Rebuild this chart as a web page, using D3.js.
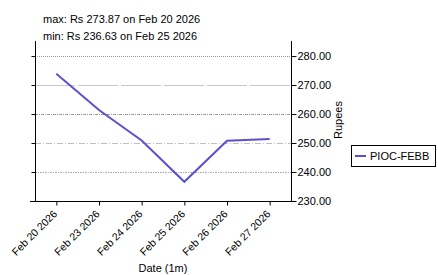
<!DOCTYPE html>
<html>
<head>
<meta charset="utf-8">
<script src="https://cdn.jsdelivr.net/npm/d3@7"></script>
<style>
  body { margin: 0; background: #fff; }
  svg { display: block; font-family: "Liberation Sans", Arial, sans-serif; }
</style>
</head>
<body>
<svg id="chart"></svg>
<script>
const dates = ["Feb 20 2026", "Feb 23 2026", "Feb 24 2026", "Feb 25 2026", "Feb 26 2026", "Feb 27 2026"]
const prices = [273.87, 261.4, 250.9, 236.63, 250.8, 251.4]
const yTicks = [230, 240, 250, 260, 270, 280]
const seriesName = "PIOC-FEBB"

const width = 438, height = 275
const plotLeft = 35, plotRight = 291, plotTop = 41, plotBottom = 201

const svg = d3.select("#chart").attr("width", width).attr("height", height)

const x = d3.scalePoint().domain(dates).range([plotLeft, plotRight]).padding(0.5)
const y = d3.scaleLinear().domain([230, 285.2]).range([plotBottom, plotTop])

// grid lines, each with its own dash style
const gridStyles = {
  280: { stroke: "#999", dash: "1,1" },
  270: { stroke: "#c8c8c8", dash: "40,3" },
  260: { stroke: "#999", dash: "3,1,1,1" },
  250: { stroke: "#c0c0c0", dash: "6,2,1,2" },
  240: { stroke: "#aaa", dash: "2,1,1,1" }
}
svg.append("g").selectAll("line")
  .data(yTicks.filter(d => d !== 230))
  .enter().append("line")
    .attr("x1", plotLeft).attr("x2", plotRight)
    .attr("y1", d => Math.round(y(d)) + 0.5).attr("y2", d => Math.round(y(d)) + 0.5)
    .attr("stroke", d => gridStyles[d].stroke)
    .attr("stroke-dasharray", d => gridStyles[d].dash)

// left axis (ticks only)
const gl = svg.append("g").attr("transform", "translate(" + (plotLeft + 0.5) + ",0)")
  .call(d3.axisLeft(y).tickValues(yTicks).tickSize(4).tickSizeOuter(0).tickFormat(""))
gl.select(".domain").remove()
gl.append("line").attr("y1", plotTop).attr("y2", plotBottom).attr("stroke", "#000")

// right axis
const gr = svg.append("g").attr("transform", "translate(" + (plotRight + 0.5) + ",0)")
  .call(d3.axisRight(y).tickValues(yTicks).tickSize(5).tickPadding(1).tickFormat(d3.format(".2f")))
gr.select(".domain").remove()
gr.append("line").attr("y1", plotTop).attr("y2", plotBottom).attr("stroke", "#000")
gr.selectAll("text").attr("font-size", 11).attr("fill", "#000").attr("font-family", "Liberation Sans, Arial, sans-serif")

// bottom axis
const gb = svg.append("g").attr("transform", "translate(0," + (plotBottom + 0.5) + ")")
  .call(d3.axisBottom(x).tickSize(4).tickSizeOuter(0))
gb.select(".domain").remove()
gb.append("line").attr("x1", plotLeft - 5).attr("x2", plotRight + 1).attr("stroke", "#000")
gb.selectAll("text")
  .attr("font-size", 10.5).attr("fill", "#000").attr("font-family", "Liberation Sans, Arial, sans-serif")
  .attr("text-anchor", "end")
  .attr("dy", null).attr("y", 0)
  .attr("transform", "translate(1,13) rotate(-45)")

// price line
const line = d3.line().x((d, i) => x(dates[i])).y(d => y(d))
svg.append("path")
  .datum(prices)
  .attr("fill", "none")
  .attr("stroke", "#5a50d0")
  .attr("stroke-width", 2)
  .attr("d", line)

// labels
svg.append("text").attr("x", 43).attr("y", 23).attr("font-size", 11)
  .text("max: Rs 273.87 on Feb 20 2026")
svg.append("text").attr("x", 43).attr("y", 40).attr("font-size", 11)
  .text("min: Rs 236.63 on Feb 25 2026")
svg.append("text").attr("x", 163).attr("y", 272).attr("font-size", 11)
  .attr("text-anchor", "middle").text("Date (1m)")
svg.append("text").attr("transform", "translate(342,120) rotate(-90)")
  .attr("font-size", 11).attr("text-anchor", "middle").text("Rupees")

// legend
const lg = svg.append("g")
lg.append("rect").attr("x", 351.5).attr("y", 145.5).attr("width", 84).attr("height", 21)
  .attr("fill", "#fff").attr("stroke", "#000")
lg.append("line").attr("x1", 355).attr("x2", 366).attr("y1", 156).attr("y2", 156)
  .attr("stroke", "#5a50d0").attr("stroke-width", 2)
lg.append("text").attr("x", 370).attr("y", 160).attr("font-size", 11).text(seriesName)
</script>
</body>
</html>
